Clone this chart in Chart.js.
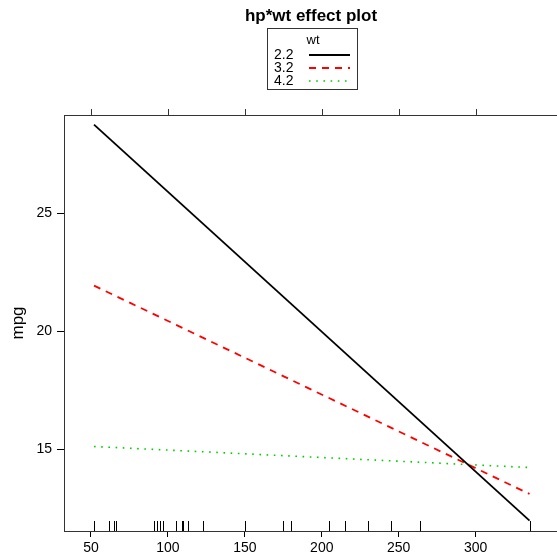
<!DOCTYPE html>
<html>
<head>
<meta charset="utf-8">
<script src="https://cdn.jsdelivr.net/npm/chart.js@4/dist/chart.umd.min.js"></script>
<style>
  html, body { margin: 0; padding: 0; background: #fff; overflow: hidden; }
  #wrap { width: 557px; height: 556px; overflow: hidden; }
</style>
</head>
<body>
<div id="wrap"><canvas id="chart" width="600" height="556"></canvas></div>
<script>
// ── Data ─────────────────────────────────────────────
const HP_ENDS   = [52, 335]
const MPG_WT22  = [28.75, 11.97]
const MPG_WT32  = [21.93, 13.10]
const MPG_WT42  = [15.11, 14.22]
const WT_LEVELS = ['2.2', '3.2', '4.2']
const HP_RUG    = [52, 62, 65, 66, 91, 93, 95, 97, 105, 109, 110, 113, 123,
                   150, 175, 180, 205, 215, 230, 245, 264, 335]
const X_TICKS   = [50, 100, 150, 200, 250, 300]
const Y_TICKS   = [15, 20, 25]

const FONT = '"Liberation Sans", Arial, Helvetica, sans-serif'

const STYLES = [
  { color: '#000000', dash: [],       width: 1.8 },
  { color: '#ff0000', dash: [7, 6],   width: 1.8 },
  { color: '#00cd00', dash: [1.6, 5.6], width: 1.6 },
]

const toPoints = (ys) => HP_ENDS.map((x, i) => ({ x, y: ys[i] }))

// title, legend box, rug and the top ticks (lattice style)
const latticeExtras = {
  id: 'latticeExtras',
  afterDraw(chart) {
    const { ctx, chartArea, scales } = chart
    ctx.save()

    // title
    ctx.fillStyle = '#000'
    ctx.font = 'bold 17px ' + FONT
    ctx.textAlign = 'center'
    ctx.textBaseline = 'middle'
    ctx.fillText('hp*wt effect plot', 311, 16)

    // legend
    ctx.strokeStyle = '#333'
    ctx.lineWidth = 1
    ctx.setLineDash([])
    ctx.strokeRect(267.5, 28.5, 90, 61)
    ctx.font = '13px ' + FONT
    ctx.fillText('wt', 313, 40)
    ctx.textAlign = 'left'
    ctx.font = '14px ' + FONT
    WT_LEVELS.forEach((lab, i) => {
      const y = 55 + i * 13
      ctx.fillStyle = '#000'
      ctx.fillText(lab, 274, y + 0.5)
      const s = STYLES[i]
      ctx.strokeStyle = s.color
      ctx.lineWidth = s.width
      ctx.setLineDash(s.dash)
      ctx.beginPath()
      ctx.moveTo(309, y)
      ctx.lineTo(350, y)
      ctx.stroke()
    })

    // rug along the bottom
    ctx.setLineDash([])
    ctx.strokeStyle = '#000'
    ctx.lineWidth = 1
    HP_RUG.forEach(v => {
      const x = Math.round(scales.x.getPixelForValue(v)) + 0.5
      ctx.beginPath()
      ctx.moveTo(x, chartArea.bottom - 10)
      ctx.lineTo(x, chartArea.bottom)
      ctx.stroke()
    })

    // top border + ticks
    ctx.strokeStyle = '#333'
    ctx.beginPath()
    ctx.moveTo(chartArea.left, chartArea.top + 0.5)
    ctx.lineTo(chartArea.right, chartArea.top + 0.5)
    ctx.stroke()
    X_TICKS.forEach(v => {
      const x = Math.round(scales.x.getPixelForValue(v)) + 0.5
      ctx.beginPath()
      ctx.moveTo(x, chartArea.top - 6)
      ctx.lineTo(x, chartArea.top)
      ctx.stroke()
    })
    ctx.restore()
  },
}

new Chart(document.getElementById('chart'), {
  type: 'scatter',
  data: {
    datasets: [MPG_WT22, MPG_WT32, MPG_WT42].map((ys, i) => ({
      label: WT_LEVELS[i],
      data: toPoints(ys),
      showLine: true,
      borderColor: STYLES[i].color,
      borderWidth: STYLES[i].width,
      borderDash: STYLES[i].dash,
      pointRadius: 0,
      fill: false,
    })),
  },
  options: {
    responsive: false,
    animation: false,
    devicePixelRatio: 1,
    layout: { padding: { top: 115, right: 32, left: 0, bottom: 0 } },
    plugins: {
      legend:  { display: false },
      tooltip: { enabled: false },
      title:   { display: false },
    },
    scales: {
      x: {
        type: 'linear',
        position: 'bottom',
        min: 32.5,
        max: 360,
        afterBuildTicks: (s) => { s.ticks = X_TICKS.map(v => ({ value: v })) },
        afterFit: (s) => { s.height = 25 },
        grid: { drawOnChartArea: false, drawTicks: true, tickLength: 6, tickColor: '#000' },
        border: { display: true, color: '#333', width: 1 },
        ticks: { color: '#000', font: { family: FONT, size: 14 }, padding: 3, maxRotation: 0 },
      },
      y: {
        type: 'linear',
        position: 'left',
        min: 11.53,
        max: 29.16,
        afterBuildTicks: (s) => { s.ticks = Y_TICKS.map(v => ({ value: v })) },
        afterFit: (s) => { s.width = 64 },
        grid: { drawOnChartArea: false, drawTicks: true, tickLength: 7, tickColor: '#000' },
        border: { display: true, color: '#333', width: 1 },
        ticks: { color: '#000', font: { family: FONT, size: 14 }, padding: 5 },
        title: {
          display: true,
          text: 'mpg',
          color: '#000',
          font: { family: FONT, size: 17 },
          padding: { top: 8, bottom: 0 },
        },
      },
    },
  },
  plugins: [latticeExtras],
})
</script>
</body>
</html>
